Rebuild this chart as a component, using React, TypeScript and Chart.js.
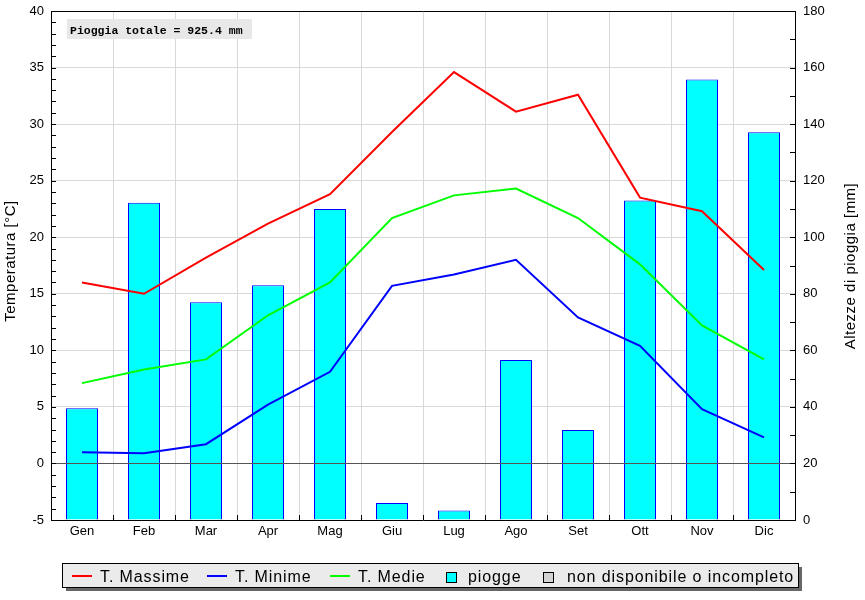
import React, { useEffect, useRef } from "react";
import { Chart, registerables } from "chart.js";

Chart.register(...registerables);

const MONTHS = ["Gen", "Feb", "Mar", "Apr", "Mag", "Giu", "Lug", "Ago", "Set", "Ott", "Nov", "Dic"];
const T_MAX = [16.0, 15.0, 18.2, 21.2, 23.8, 29.3, 34.6, 31.1, 32.6, 23.5, 22.3, 17.1];
const T_MIN = [1.0, 0.9, 1.7, 5.2, 8.1, 15.7, 16.7, 18.0, 12.9, 10.4, 4.8, 2.3];
const T_MED = [7.1, 8.3, 9.2, 13.1, 16.0, 21.7, 23.7, 24.3, 21.7, 17.6, 12.2, 9.2];
const RAIN = [39.5, 112.2, 77.0, 83.0, 110.0, 6.0, 3.4, 56.6, 31.8, 113.0, 155.8, 137.1];

const TEMP_MIN = -5;
const TEMP_MAX = 40;
const TEMP_STEP = 5;
const RAIN_MIN = 0;
const RAIN_MAX = 180;
const RAIN_STEP = 20;

const SERIES_NAMES = ["T. Massime", "T. Minime", "T. Medie", "piogge"];
const NA_LABEL = "non disponibile o incompleto";
const TOTAL_LABEL = "Pioggia totale = 925.4 mm";
const LEFT_TITLE = "Temperatura [°C]";
const RIGHT_TITLE = "Altezze di pioggia [mm]";

const FONT = "'Liberation Sans', Arial, Helvetica, sans-serif";

const decorPlugin = {
  id: "decor",
  afterDatasetsDraw(chart: any) {
    const { ctx, chartArea: a, scales } = chart;
    const y = scales.y;
    const y1 = scales.y1;
    const x = scales.x;
    ctx.save();
    ctx.lineWidth = 1;
    // zero line
    const z = Math.round(y.getPixelForValue(0)) + 0.5;
    ctx.strokeStyle = "#555555";
    ctx.beginPath();
    ctx.moveTo(a.left, z);
    ctx.lineTo(a.right, z);
    ctx.stroke();
    // frame
    ctx.strokeStyle = "#000000";
    ctx.beginPath();
    ctx.moveTo(a.left, Math.round(a.top) + 0.5);
    ctx.lineTo(a.right + 1, Math.round(a.top) + 0.5);
    ctx.stroke();
    // left ticks (inside)
    ctx.beginPath();
    for (let v = TEMP_MIN; v <= TEMP_MAX; v += 1) {
      const py = Math.round(y.getPixelForValue(v)) + 0.5;
      ctx.moveTo(a.left, py);
      ctx.lineTo(a.left + 5, py);
    }
    // right ticks (inside)
    for (let v = RAIN_MIN; v <= RAIN_MAX; v += 10) {
      const py = Math.round(y1.getPixelForValue(v)) + 0.5;
      ctx.moveTo(a.right - 5, py);
      ctx.lineTo(a.right, py);
    }
    // bottom ticks at category boundaries
    const step = x.getPixelForValue(1) - x.getPixelForValue(0);
    for (let i = 0; i <= MONTHS.length; i++) {
      const px = Math.round(x.getPixelForValue(0) - step / 2 + i * step) + 0.5;
      ctx.moveTo(px, a.bottom);
      ctx.lineTo(px, a.bottom - 5);
    }
    ctx.stroke();
    ctx.restore();
  },
  afterDraw(chart: any) {
    const { ctx } = chart;
    ctx.save();
    // total annotation
    ctx.fillStyle = "#e8e8e8";
    ctx.fillRect(67, 19, 185, 20);
    ctx.fillStyle = "#000000";
    ctx.font = "bold 11.5px 'Liberation Mono', 'DejaVu Sans Mono', monospace";
    ctx.textBaseline = "alphabetic";
    ctx.textAlign = "left";
    ctx.fillText(TOTAL_LABEL, 70, 34);

    // axis titles
    ctx.font = `15px ${FONT}`;
    (ctx as any).letterSpacing = "0.5px";
    ctx.textAlign = "center";
    ctx.textBaseline = "middle";
    ctx.save();
    ctx.translate(11, 261);
    ctx.rotate(-Math.PI / 2);
    ctx.fillText(LEFT_TITLE, 0, 0);
    ctx.restore();
    ctx.save();
    ctx.translate(851, 266);
    ctx.rotate(-Math.PI / 2);
    ctx.fillText(RIGHT_TITLE, 0, 0);
    ctx.restore();

    // legend box
    const lx = 62, ly = 563, lw = 736, lh = 24;
    ctx.fillStyle = "#666666";
    ctx.fillRect(lx + 4, ly + 4, lw, lh);
    ctx.fillStyle = "#ebebeb";
    ctx.fillRect(lx, ly, lw, lh);
    ctx.strokeStyle = "#000000";
    ctx.lineWidth = 1;
    ctx.strokeRect(lx + 0.5, ly + 0.5, lw, lh);

    const datasets = chart.data.datasets;
    const items = [
      { kind: "line", color: datasets[0].borderColor, label: datasets[0].label, sx: 72, tx: 100 },
      { kind: "line", color: datasets[1].borderColor, label: datasets[1].label, sx: 207, tx: 235 },
      { kind: "line", color: datasets[2].borderColor, label: datasets[2].label, sx: 330, tx: 358 },
      { kind: "box", color: datasets[3].backgroundColor, label: datasets[3].label, sx: 446, tx: 468 },
      { kind: "box", color: "#d3d3d3", label: NA_LABEL, sx: 543, tx: 567 },
    ];
    ctx.font = `16px ${FONT}`;
    (ctx as any).letterSpacing = "0.9px";
    ctx.textAlign = "left";
    ctx.textBaseline = "alphabetic";
    for (const it of items) {
      if (it.kind === "line") {
        ctx.strokeStyle = it.color;
        ctx.lineWidth = 2;
        ctx.beginPath();
        ctx.moveTo(it.sx, 576);
        ctx.lineTo(it.sx + 20, 576);
        ctx.stroke();
      } else {
        ctx.fillStyle = it.color;
        ctx.fillRect(it.sx, 572, 10, 11);
        ctx.strokeStyle = "#000000";
        ctx.lineWidth = 1;
        ctx.strokeRect(it.sx + 0.5, 572.5, 10, 10);
      }
      ctx.fillStyle = "#000000";
      ctx.fillText(it.label, it.tx, 582);
    }
    ctx.restore();
  },
};

export default function App() {
  const ref = useRef<HTMLCanvasElement | null>(null);
  useEffect(() => {
    const canvas = ref.current;
    if (!canvas) return;
    Chart.defaults.font.family = FONT;
    const lineDs = (label: string, data: number[], color: string) => ({
      type: "line" as const,
      label,
      data,
      borderColor: color,
      backgroundColor: color,
      borderWidth: 2,
      pointRadius: 0,
      tension: 0,
      yAxisID: "y",
      order: 0,
    });
    const chart = new Chart(canvas, {
      type: "bar",
      data: {
        labels: MONTHS,
        datasets: [
          lineDs(SERIES_NAMES[0], T_MAX, "#ff0000"),
          lineDs(SERIES_NAMES[1], T_MIN, "#0000ff"),
          lineDs(SERIES_NAMES[2], T_MED, "#00ff00"),
          {
            type: "bar",
            label: SERIES_NAMES[3],
            data: RAIN,
            backgroundColor: "#00ffff",
            borderColor: "#0000ff",
            borderWidth: 1,
            barPercentage: 32 / 62,
            categoryPercentage: 1,
            yAxisID: "y1",
            order: 1,
          },
        ] as any,
      },
      options: {
        responsive: false,
        animation: false,
        layout: { padding: { top: 11, left: 0, right: 0, bottom: 0 } },
        plugins: { legend: { display: false }, tooltip: { enabled: false } },
        scales: {
          x: {
            offset: true,
            grid: { offset: true, color: "#d9d9d9", drawTicks: false },
            border: { color: "#000000" },
            ticks: { color: "#000000", font: { size: 13, family: FONT }, padding: 4 },
            afterFit: (s: any) => {
              s.height = 80;
            },
          },
          y: {
            position: "left",
            min: TEMP_MIN,
            max: TEMP_MAX,
            ticks: { stepSize: TEMP_STEP, color: "#000000", font: { size: 13, family: FONT }, padding: 7 },
            grid: { color: "#d9d9d9", drawTicks: false },
            border: { color: "#000000" },
            afterFit: (s: any) => {
              s.width = 51;
              s.paddingTop = 0;
              s.paddingBottom = 0;
            },
          },
          y1: {
            position: "right",
            min: RAIN_MIN,
            max: RAIN_MAX,
            ticks: { stepSize: RAIN_STEP, color: "#000000", font: { size: 13, family: FONT }, padding: 8 },
            grid: { drawOnChartArea: false, drawTicks: false },
            border: { color: "#000000" },
            afterFit: (s: any) => {
              s.width = 70;
              s.paddingTop = 0;
              s.paddingBottom = 0;
            },
          },
        },
      },
      plugins: [decorPlugin],
    });
    return () => chart.destroy();
  }, []);
  return (
    <div style={{ position: "absolute", left: 0, top: 0, width: 865, height: 600, background: "#ffffff" }}>
      <canvas ref={ref} width={865} height={600} style={{ display: "block" }} />
    </div>
  );
}
